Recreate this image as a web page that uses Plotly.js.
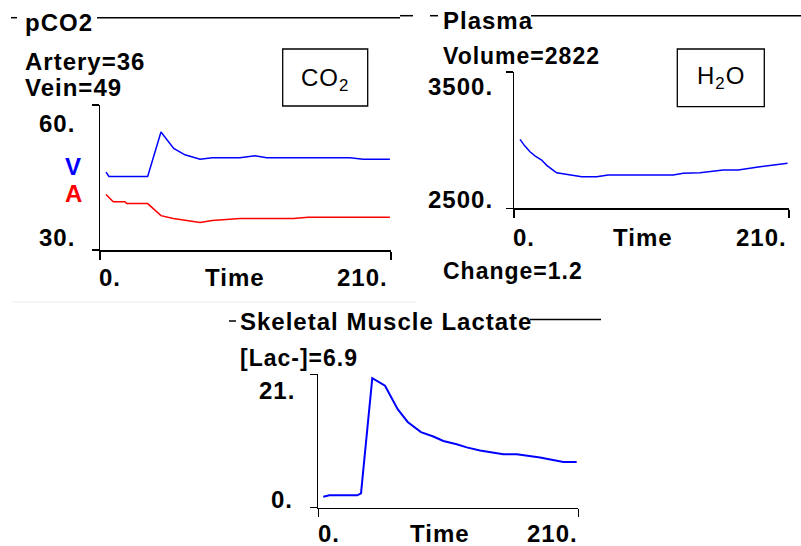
<!DOCTYPE html>
<html>
<head>
<meta charset="utf-8">
<script src="https://cdn.plot.ly/plotly-3.0.1.min.js"></script>
<style>
  html, body { margin: 0; padding: 0; background: #fff; }
  #chart { width: 801px; height: 546px; }
  .annotation-text { letter-spacing: 1px; }
</style>
</head>
<body>
<div id="chart"></div>
<script>
// ---------- data ----------
// Panel 1: pCO2 (vein = blue, artery = red)
const veinTime  = [4.3, 6.5, 34.4, 44, 53.2, 61.3, 72.2, 81, 101, 111.8, 120.3, 180.4, 190, 209.2];
const veinCO2   = [46.1, 45.2, 45.2, 54.4, 51.0, 49.7, 48.8, 49.1, 49.1, 49.5, 49.1, 49.1, 48.8, 48.8];
const arteryTime = [4.3, 7.2, 9.6, 18, 19.3, 34.4, 44, 52.9, 72.2, 81, 101, 139.5, 150.3, 209.2];
const arteryCO2  = [41.5, 40.6, 40.0, 40.0, 39.6, 39.6, 37.1, 36.5, 35.7, 36.1, 36.5, 36.5, 36.8, 36.8];
const co2YTicks = [30, 60];
const co2YTickText = ['30.', '60.'];

// Panel 2: plasma volume
const plasmaTime = [4.6, 8, 12.2, 16, 21.1, 25, 28.8, 32.6, 51.7, 63.1, 72, 121.6, 129.2, 142, 159.8, 171.2, 187.8, 208.9];
const plasmaVol  = [3006, 2960, 2915, 2885, 2854, 2815, 2788, 2761, 2732, 2732, 2744, 2744, 2757, 2761, 2781, 2781, 2805, 2830];
const plasmaYTicks = [2500, 3500];
const plasmaYTickText = ['2500.', '3500.'];

// Panel 3: skeletal muscle lactate
const lacTime = [4.0, 8.9, 31.5, 34.5, 43.6, 53.9, 64.1, 72.2, 82.9, 92.9, 101, 111.8, 119.9, 130.6, 149.4, 160.3, 179.1, 189.8, 197.9, 208.7];
const lacConc = [1.73, 1.95, 1.95, 2.27, 20.4, 19.2, 15.5, 13.5, 11.9, 11.2, 10.5, 10.0, 9.5, 9.0, 8.4, 8.4, 7.9, 7.5, 7.2, 7.2];
const lacYTicks = [0, 21];
const lacYTickText = ['0.', '21.'];

// shared x axis
const timeTicks = [0, 210];
const timeTickText = ['0.', '210.'];
const timeTitle = 'Time';

// panel titles / readouts
const titles = ['pCO2', 'Plasma', 'Skeletal Muscle Lactate'];
const readLabels = ['Artery', 'Vein', 'Volume', 'Change', '[Lac-]'];
const readValues = ['36', '49', '2822', '1.2', '6.9'];
const seriesLetters = ['V', 'A'];
const boxLabels = ['CO<sub>2</sub>', 'H<sub>2</sub>O'];

// ---------- layout helpers ----------
const W = 801, H = 546;
const FONT = 'Liberation Sans, Arial, Helvetica, sans-serif';
const px = x => x / W;
const py = y => 1 - y / H;

function txt(text, x, y, o) {
  return Object.assign({
    text: text, xref: 'paper', yref: 'paper', x: px(x), y: py(y),
    xanchor: 'left', yanchor: 'middle', showarrow: false,
    borderpad: 0, borderwidth: 0,
    font: { family: FONT, size: 24, color: '#000', weight: 700 }
  }, o || {});
}
function readout(i, x, y, size) {
  return txt(readLabels[i] + '=' + readValues[i], x, y,
    { font: { family: FONT, size: size || 24, color: '#000', weight: 700 } });
}
function axTxt(text, xa, ya, x, y, xanchor, xshift, yshift) {
  return {
    text: text, xref: xa, yref: ya, x: x, y: y,
    xanchor: xanchor, yanchor: 'middle', xshift: xshift, yshift: yshift,
    showarrow: false, borderpad: 0, borderwidth: 0,
    font: { family: FONT, size: 24, color: '#000', weight: 700 }
  };
}
function hline(x0, x1, y, color, w) {
  return { type: 'line', xref: 'paper', yref: 'paper', x0: px(x0), x1: px(x1), y0: py(y), y1: py(y),
           line: { color: color || '#000', width: w || 1.5 } };
}
function rect(x0, y0, x1, y1) {
  return { type: 'rect', xref: 'paper', yref: 'paper', x0: px(x0), x1: px(x1), y0: py(y1), y1: py(y0),
           line: { color: '#000', width: 1.3 }, fillcolor: 'rgba(0,0,0,0)' };
}
function xax(d0, d1, anchor) {
  return { domain: [px(d0), px(d1)], anchor: anchor, range: [0, 210], showgrid: false, zeroline: false,
           showline: true, linecolor: '#000', linewidth: 1.5, ticks: 'outside', ticklen: 8, tickwidth: 1.5,
           tickcolor: '#000', tickvals: timeTicks, showticklabels: false, fixedrange: true };
}
function yax(top, bottom, anchor, range, tv) {
  return { domain: [py(bottom), py(top)], anchor: anchor, range: range, showgrid: false, zeroline: false,
           showline: true, linecolor: '#000', linewidth: 1.5, ticks: 'outside', ticklen: 7, tickwidth: 1.5,
           tickcolor: '#000', tickvals: tv, showticklabels: false, fixedrange: true };
}

// ---------- traces ----------
const traces = [
  { x: veinTime, y: veinCO2, xaxis: 'x', yaxis: 'y', mode: 'lines', line: { color: '#0000ff', width: 1.5 }, hoverinfo: 'skip' },
  { x: arteryTime, y: arteryCO2, xaxis: 'x', yaxis: 'y', mode: 'lines', line: { color: '#ff0000', width: 1.5 }, hoverinfo: 'skip' },
  { x: plasmaTime, y: plasmaVol, xaxis: 'x2', yaxis: 'y2', mode: 'lines', line: { color: '#0000ff', width: 1.5 }, hoverinfo: 'skip' },
  { x: lacTime, y: lacConc, xaxis: 'x3', yaxis: 'y3', mode: 'lines', line: { color: '#0000ff', width: 2 }, hoverinfo: 'skip' }
];

// ---------- annotations ----------
const annotations = [
  // panel 1
  txt(titles[0], 25, 22.5),
  readout(0, 25, 61),
  readout(1, 25, 87.5),
  txt(seriesLetters[0], 65, 166, { font: { family: FONT, size: 24, color: '#0000ff', weight: 700 } }),
  txt(seriesLetters[1], 65, 193, { font: { family: FONT, size: 24, color: '#ff0000', weight: 700 } }),
  axTxt(co2YTickText[1], 'x', 'y', 0, co2YTicks[1], 'right', -25, -19),
  axTxt(co2YTickText[0], 'x', 'y', 0, co2YTicks[0], 'right', -25, 12.5),
  axTxt(timeTickText[0], 'x', 'y', timeTicks[0], 30, 'left', -1, -27.5),
  axTxt(timeTickText[1], 'x', 'y', timeTicks[1], 30, 'right', -3, -27.5),
  txt(timeTitle, 234.5, 277.5, { xanchor: 'center' }),
  txt(boxLabels[0], 324.5, 79, { xanchor: 'center', font: { family: FONT, size: 24, color: '#000', weight: 400 } }),

  // panel 2
  txt(titles[1], 443, 20.5),
  readout(2, 443, 56, 23),
  axTxt(plasmaYTickText[1], 'x2', 'y2', 0, plasmaYTicks[1], 'right', -21, -15),
  axTxt(plasmaYTickText[0], 'x2', 'y2', 0, plasmaYTicks[0], 'right', -21, 9),
  axTxt(timeTickText[0], 'x2', 'y2', timeTicks[0], 2500, 'left', -1, -28.7),
  axTxt(timeTickText[1], 'x2', 'y2', timeTicks[1], 2500, 'right', -2, -28.7),
  txt(timeTitle, 642.5, 237, { xanchor: 'center' }),
  readout(3, 443, 271, 23),
  txt(boxLabels[1], 720.5, 78, { xanchor: 'center', font: { family: FONT, size: 24, color: '#000', weight: 400 } }),

  // panel 3
  txt(titles[2], 240, 321.5),
  readout(4, 240, 357.5, 23),
  axTxt(lacYTickText[1], 'x3', 'y3', 0, lacYTicks[1], 'right', -23, -16),
  axTxt(lacYTickText[0], 'x3', 'y3', 0, lacYTicks[0], 'right', -25, 8),
  axTxt(timeTickText[0], 'x3', 'y3', timeTicks[0], 0, 'left', 0, -25.5),
  axTxt(timeTickText[1], 'x3', 'y3', timeTicks[1], 0, 'right', 0, -25.5),
  txt(timeTitle, 439.5, 533, { xanchor: 'center' })
];

// ---------- shapes ----------
const shapes = [
  hline(11, 17, 17.7), hline(97, 400, 17.7),
  hline(400, 413, 15.7), hline(430, 438, 15.7), hline(531, 801, 15.7),
  hline(229, 236, 321), hline(530, 601, 319.5),
  hline(12, 416, 302, '#ececec', 1),
  rect(282.7, 49, 367.7, 106),
  rect(677.3, 49, 764.3, 106.7)
];

const layout = {
  width: W, height: H,
  margin: { l: 0, r: 0, t: 0, b: 0, pad: 0 },
  paper_bgcolor: '#fff', plot_bgcolor: 'rgba(0,0,0,0)',
  showlegend: false,
  font: { family: FONT },
  xaxis: xax(100, 391, 'y'),
  yaxis: yax(105, 250, 'x', [30, 60], co2YTicks),
  xaxis2: xax(514, 789, 'y2'),
  yaxis2: yax(72, 208.3, 'x2', [2500, 3500], plasmaYTicks),
  xaxis3: xax(318.3, 578.3, 'y3'),
  yaxis3: yax(374.3, 507.7, 'x3', [0, 21], lacYTicks),
  annotations: annotations,
  shapes: shapes
};

Plotly.newPlot('chart', traces, layout, { staticPlot: true, displayModeBar: false });
</script>
</body>
</html>
